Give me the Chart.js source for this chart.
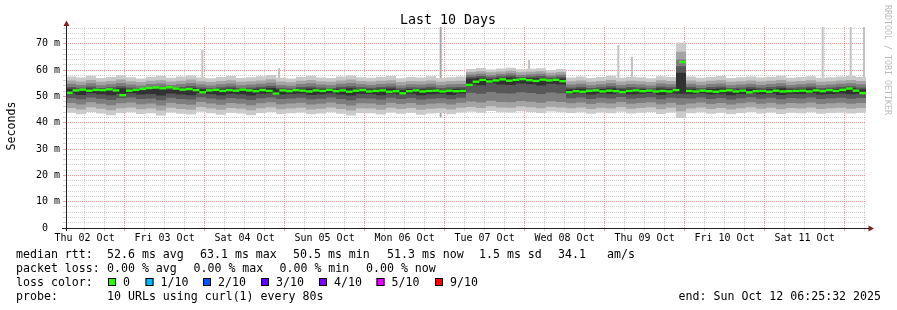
<!DOCTYPE html>
<html>
<head>
<meta charset="utf-8">
<script src="https://cdn.jsdelivr.net/npm/chart.js@4.4.1/dist/chart.umd.min.js"></script>
<style>
  html, body { margin: 0; padding: 0; background: #fff; }
  canvas { display: block; }
</style>
</head>
<body>
<canvas id="smoke" width="897" height="310"></canvas>
<script>
// x is hours since Thu 02 Oct 06:25:32, the graph covers 240 hours
var totalHours = 240;
var smokeStep = 3;   // smoke bins, hours
var medianStep = 2;  // median bins, hours

// smoke bands, outer (light) to inner (dark), values in ms
var b1Lo = [43.8,43.2,44.1,43.5,42.9,43.7,44.0,43.3,43.6,42.8,
  43.9,43.4,43.1,44.2,43.6,43.0,43.8,43.5,42.9,43.7,
  44.1,43.3,43.6,43.9,43.2,43.5,44.0,43.4,42.8,43.7,
  43.6,43.1,43.9,43.4,43.8,43.0,43.5,43.7,43.2,43.9,
  44.2,43.8,44.5,44.0,43.9,44.4,44.1,43.7,44.3,44.0,
  43.7,44.0,43.4,43.9,43.6,44.2,43.5,43.8,44.1,43.3,
  43.9,41.8,43.6,44.0,43.4,43.8,43.2,43.7,44.1,43.5,
  43.9,43.3,43.8,43.6,44.0,43.4,43.7,43.9,43.5,43.8];
var b1Hi = [57.6,57.2,57.9,57.0,57.4,58.1,57.3,56.8,57.5,57.9,
  57.1,57.6,58.0,57.2,56.9,57.4,57.8,57.0,57.3,57.7,
  58.2,57.1,56.8,57.5,57.9,57.2,57.0,57.6,58.0,57.3,
  57.1,57.5,57.8,56.9,57.4,57.2,57.7,57.0,57.3,57.6,
  60.4,60.8,60.2,60.6,60.9,60.3,60.5,60.7,60.1,60.4,
  57.2,57.6,57.0,57.4,57.9,57.1,57.5,57.3,56.9,57.7,
  57.4,70.5,57.6,57.1,57.5,57.8,57.0,57.3,57.6,57.2,
  57.5,57.9,57.1,57.4,57.7,57.0,57.3,57.6,57.8,57.4];
var b2Lo = [45.6,45.0,45.9,45.3,44.8,45.5,45.8,45.1,45.4,44.7,
  45.7,45.2,44.9,46.0,45.4,44.9,45.6,45.3,44.8,45.5,
  45.9,45.1,45.4,45.7,45.0,45.3,45.8,45.2,44.7,45.5,
  45.4,44.9,45.7,45.2,45.6,44.9,45.3,45.5,45.0,45.7,
  46.0,45.6,46.3,45.8,45.7,46.2,45.9,45.5,46.1,45.8,
  45.5,45.8,45.2,45.7,45.4,46.0,45.3,45.6,45.9,45.1,
  45.7,44.4,45.4,45.8,45.2,45.6,45.0,45.5,45.9,45.3,
  45.7,45.1,45.6,45.4,45.8,45.2,45.5,45.7,45.3,45.6];
var b2Hi = [56.1,55.7,56.3,55.6,55.9,56.4,55.8,55.5,56.0,56.2,
  55.7,56.0,56.4,55.8,55.5,55.9,56.2,55.6,55.8,56.1,
  56.5,55.7,55.4,56.0,56.3,55.8,55.6,56.1,56.4,55.9,
  55.7,56.0,56.2,55.5,55.9,55.8,56.1,55.6,55.9,56.0,
  59.3,59.6,59.2,59.5,59.8,59.2,59.4,59.6,59.0,59.3,
  55.8,56.1,55.6,55.9,56.3,55.7,56.0,55.8,55.5,56.2,
  55.9,67.0,56.1,55.6,56.0,56.2,55.6,55.8,56.1,55.7,
  56.0,56.3,55.7,55.9,56.2,55.6,55.8,56.1,56.3,55.9];
var b3Lo = [47.5,46.9,47.8,47.2,46.7,47.4,47.7,47.0,47.3,46.6,
  47.6,47.1,46.8,47.9,47.3,46.8,47.5,47.2,46.7,47.4,
  47.8,47.0,47.3,47.6,46.9,47.2,47.7,47.1,46.6,47.4,
  47.3,46.8,47.6,47.1,47.5,46.8,47.2,47.4,46.9,47.6,
  48.1,47.7,48.4,47.9,47.8,48.3,48.0,47.6,48.2,47.9,
  47.4,47.7,47.1,47.6,47.3,47.9,47.2,47.5,47.8,47.0,
  47.6,46.8,47.3,47.7,47.1,47.5,46.9,47.4,47.8,47.2,
  47.6,47.0,47.5,47.3,47.7,47.1,47.4,47.6,47.2,47.5];
var b3Hi = [54.8,54.4,55.0,54.3,54.6,55.1,54.5,54.2,54.7,54.9,
  54.4,54.7,55.1,54.5,54.2,54.6,54.9,54.3,54.5,54.8,
  55.2,54.4,54.1,54.7,55.0,54.5,54.3,54.8,55.1,54.6,
  54.4,54.7,54.9,54.2,54.6,54.5,54.8,54.3,54.6,54.7,
  58.3,58.6,58.1,58.5,58.8,58.2,58.4,58.6,58.0,58.3,
  54.5,54.8,54.3,54.6,55.0,54.4,54.7,54.5,54.2,54.9,
  54.6,64.0,54.8,54.3,54.7,54.9,54.3,54.5,54.8,54.4,
  54.7,55.0,54.4,54.6,54.9,54.3,54.5,54.8,55.0,54.6];
var b4Lo = [49.4,48.9,49.6,49.1,48.7,49.3,49.6,49.0,49.2,48.6,
  49.5,49.0,48.8,49.7,49.2,48.8,49.4,49.1,48.7,49.3,
  49.6,49.0,49.2,49.5,48.9,49.1,49.6,49.0,48.6,49.3,
  49.2,48.8,49.5,49.0,49.4,48.8,49.1,49.3,48.9,49.5,
  51.4,51.0,51.7,51.2,51.1,51.6,51.3,50.9,51.5,51.2,
  49.3,49.6,49.0,49.5,49.2,49.8,49.1,49.4,49.7,48.9,
  49.5,49.3,49.2,49.6,49.0,49.4,48.8,49.3,49.7,49.1,
  49.5,48.9,49.4,49.2,49.6,49.0,49.3,49.5,49.1,49.4];
var b4Hi = [53.6,53.3,53.8,53.2,53.5,53.9,53.4,53.1,53.6,53.7,
  53.3,53.6,54.0,53.4,53.1,53.5,53.8,53.2,53.4,53.7,
  54.0,53.3,53.0,53.6,53.8,53.4,53.2,53.7,53.9,53.5,
  53.3,53.6,53.8,53.1,53.5,53.4,53.7,53.2,53.5,53.6,
  57.5,57.8,57.3,57.7,58.0,57.4,57.6,57.8,57.2,57.5,
  53.4,53.7,53.2,53.5,53.9,53.3,53.6,53.4,53.1,53.8,
  53.5,61.5,53.7,53.2,53.6,53.8,53.2,53.4,53.7,53.3,
  53.6,53.9,53.3,53.5,53.8,53.2,53.4,53.7,53.9,53.4];
var b5Lo = [51.0,50.6,51.2,50.8,50.5,51.0,51.2,50.7,50.9,50.4,
  51.1,50.7,50.5,51.3,50.9,50.5,51.0,50.8,50.4,51.0,
  51.2,50.7,50.9,51.1,50.6,50.8,51.2,50.7,50.4,51.0,
  50.9,50.5,51.1,50.7,51.0,50.5,50.8,51.0,50.6,51.1,
  54.7,54.3,55.0,54.5,54.4,54.9,54.6,54.2,54.8,54.5,
  51.0,51.2,50.7,51.1,50.9,51.4,50.8,51.0,51.3,50.6,
  51.1,51.0,50.9,51.2,50.7,51.0,50.5,50.9,51.3,50.8,
  51.1,50.6,51.0,50.9,51.2,50.7,50.9,51.1,50.8,51.0];
var b5Hi = [52.9,52.6,53.0,52.5,52.8,53.1,52.7,52.4,52.8,52.9,
  52.6,52.9,53.2,52.7,52.4,52.8,53.0,52.5,52.7,52.9,
  53.2,52.6,52.3,52.9,53.0,52.7,52.5,52.9,53.1,52.8,
  52.6,52.9,53.0,52.4,52.8,52.7,52.9,52.5,52.8,52.9,
  56.8,57.1,56.6,57.0,57.2,56.7,56.9,57.0,56.5,56.8,
  52.7,52.9,52.5,52.8,53.1,52.6,52.9,52.7,52.4,53.0,
  52.8,59.0,52.9,52.5,52.8,53.0,52.5,52.7,52.9,52.6,
  52.8,53.1,52.6,52.8,53.0,52.5,52.7,52.9,53.1,52.7];

// median rtt, ms, 2 hour bins
var median = [51.4,52.3,52.6,52.2,52.5,52.4,52.7,52.3,50.5,52.2,
  52.5,52.9,53.2,53.4,53.1,53.5,53.0,52.6,52.8,52.4,
  51.6,52.3,52.5,52.1,52.4,52.2,52.6,52.3,52.0,52.4,
  52.1,51.1,52.3,52.0,52.4,52.2,51.9,52.3,52.1,52.5,
  52.0,52.3,51.8,52.2,52.4,51.9,52.1,52.3,51.8,52.0,
  51.2,52.0,52.3,51.9,52.1,52.2,51.9,52.2,52.0,52.1,
  54.4,55.6,56.3,55.7,56.1,56.5,56.0,56.3,56.6,56.2,
  55.9,56.4,56.1,56.3,55.8,51.6,52.0,51.8,52.1,52.3,
  51.9,52.2,52.0,51.7,52.1,52.3,52.0,52.2,51.9,52.1,
  51.9,52.4,63.1,52.1,51.9,52.2,52.0,51.8,52.1,52.3,
  51.9,52.2,51.6,52.0,52.1,51.8,52.2,51.9,52.0,52.1,
  52.2,51.9,52.3,52.0,52.4,52.1,52.5,53.0,52.2,51.3];

// single slow samples sticking out of the smoke
var spikeHours = [40.9, 63.9, 112.4, 138.9, 165.7, 169.8, 227.0, 235.4, 239.4];
var spikeTops = [67.7, 60.7, 76.4, 63.9, 69.6, 65.0, 76.4, 76.4, 76.4];
var spikeBottoms = [52, 52, 42, 52, 52, 52, 50, 50, 47];

var dayLabels = ['Thu 02 Oct', 'Fri 03 Oct', 'Sat 04 Oct', 'Sun 05 Oct', 'Mon 06 Oct',
  'Tue 07 Oct', 'Wed 08 Oct', 'Thu 09 Oct', 'Fri 10 Oct', 'Sat 11 Oct'];
var firstNoon = 5 + 34 / 60 + 28 / 3600;  // 12:00 on Thu 02 Oct
var yMax = 76.4;

var bandColors = ['#cacaca', '#a4a4a4', '#7e7e7e', '#585858', '#323232'];
var bands = [[b1Lo, b1Hi], [b2Lo, b2Hi], [b3Lo, b3Hi], [b4Lo, b4Hi], [b5Lo, b5Hi]];
var lossColors = ['#26ff00', '#00b8ff', '#0059ff', '#5e00ff', '#7e00ff', '#dd00ff', '#ff0000'];
var lossNames = ['0', '1/10', '2/10', '3/10', '4/10', '5/10', '9/10'];

var gridColor = 'rgba(143,143,143,0.38)';
var mgridColor = 'rgba(222,79,79,0.55)';

function stepPoints(vals) {
  var pts = vals.map(function (v, i) { return { x: i * smokeStep, y: v }; });
  pts.push({ x: totalHours, y: vals[vals.length - 1] });
  return pts;
}

var datasets = [];
datasets.push({
  type: 'bar',
  data: median.map(function (m, i) { return { x: i * medianStep + medianStep / 2, y: [m - 0.45, m + 0.45] }; }),
  backgroundColor: lossColors[0],
  barThickness: 800 / median.length,
  grouped: false,
  borderWidth: 0,
  inflateAmount: 0,
  order: 0
});
bands.forEach(function (b, j) {
  var idx = datasets.length;
  datasets.push({
    data: stepPoints(b[0]), stepped: 'before', fill: false,
    borderWidth: 0, borderColor: 'rgba(0,0,0,0)', pointRadius: 0, order: 10 - j
  });
  datasets.push({
    data: stepPoints(b[1]), stepped: 'before', fill: { target: idx },
    backgroundColor: bandColors[j],
    borderWidth: 0, borderColor: 'rgba(0,0,0,0)', pointRadius: 0, order: 10 - j
  });
});
datasets.push({
  type: 'bar',
  data: spikeHours.map(function (h, i) { return { x: h, y: [spikeBottoms[i], spikeTops[i]] }; }),
  backgroundColor: spikeHours.map(function (h) { return h > 110 && h < 115 ? '#a6a6a6' : '#c2c2c2'; }),
  barThickness: 2,
  grouped: false,
  borderWidth: 0,
  inflateAmount: 0,
  order: 20
});

var xTicks = [];
for (var k = 0; firstNoon + 6 * k < totalHours; k++) xTicks.push(firstNoon + 6 * k);
var yTicks = [];
for (var v = 0; v <= yMax; v += 2) yTicks.push(v);

var mono = 'DejaVu Sans Mono';

var decor = {
  id: 'decor',
  afterDraw: function (chart) {
    var c = chart.ctx;
    c.save();
    // axes
    c.strokeStyle = '#1f1f1f';
    c.lineWidth = 1;
    c.beginPath();
    c.moveTo(66.5, 231); c.lineTo(66.5, 24);
    c.moveTo(62, 228.5); c.lineTo(870, 228.5);
    c.stroke();
    // arrows
    c.fillStyle = '#801f1f';
    c.beginPath();
    c.moveTo(66.5, 20.5); c.lineTo(63.5, 26); c.lineTo(69.5, 26); c.closePath();
    c.fill();
    c.beginPath();
    c.moveTo(874, 228.5); c.lineTo(868.5, 225.5); c.lineTo(868.5, 231.5); c.closePath();
    c.fill();

    c.fillStyle = '#000';
    c.textBaseline = 'alphabetic';
    // title
    c.font = '13.3px "' + mono + '"';
    c.textAlign = 'center';
    c.fillText('Last 10 Days', 448, 24);
    // y title
    c.save();
    c.font = '11.6px "' + mono + '"';
    c.translate(15, 126);
    c.rotate(-Math.PI / 2);
    c.fillText('Seconds', 0, 0);
    c.restore();
    // watermark
    c.save();
    c.fillStyle = '#bbbbbb';
    c.font = '8.3px "' + mono + '"';
    c.textAlign = 'left';
    c.translate(885, 5);
    c.rotate(Math.PI / 2);
    c.fillText('RRDTOOL / TOBI OETIKER', 0, 0);
    c.restore();

    // legend
    c.font = '11.6px "' + mono + '"';
    c.textAlign = 'left';
    var rows = [
      ['median rtt:', 16, 258], ['52.6 ms avg', 107, 258], ['63.1 ms max', 200, 258],
      ['50.5 ms min', 293, 258], ['51.3 ms now', 387, 258], ['1.5 ms sd', 479, 258],
      ['34.1', 558, 258], ['am/s', 607, 258],
      ['packet loss:', 16, 272], ['0.00 % avg', 107, 272], ['0.00 % max', 193.5, 272],
      ['0.00 % min', 279.5, 272], ['0.00 % now', 366, 272],
      ['loss color:', 16, 286],
      ['probe:', 16, 300], ['10 URLs using curl(1) every 80s', 107, 300]
    ];
    rows.forEach(function (r) { c.fillText(r[0], r[1], r[2]); });
    var boxX = [108, 145.5, 203, 261, 319, 376.5, 435];
    lossNames.forEach(function (n, i) {
      c.fillStyle = lossColors[i];
      c.fillRect(boxX[i], 278, 8, 8);
      c.strokeStyle = '#000';
      c.strokeRect(boxX[i] + 0.5, 278.5, 7, 7);
      c.fillStyle = '#000';
      c.fillText(n, boxX[i] + 15, 286);
    });
    c.textAlign = 'right';
    c.fillText('end: Sun Oct 12 06:25:32 2025', 881, 300);
    c.restore();
  }
};

new Chart(document.getElementById('smoke'), {
  type: 'line',
  data: { datasets: datasets },
  plugins: [decor],
  options: {
    responsive: false,
    animation: false,
    devicePixelRatio: 1,
    events: [],
    layout: { padding: { left: 0, right: 31, top: 27, bottom: 60 } },
    plugins: {
      legend: { display: false },
      tooltip: { enabled: false },
      filler: { drawTime: 'beforeDatasetDraw' }
    },
    scales: {
      x: {
        type: 'linear', min: 0, max: totalHours, offset: false, z: 1,
        afterBuildTicks: function (s) { s.ticks = xTicks.map(function (t) { return { value: t }; }); },
        afterFit: function (s) { s.height = 22; },
        ticks: {
          autoSkip: false, maxRotation: 0, minRotation: 0, padding: 1, color: '#000',
          font: { family: mono, size: 10 },
          callback: function (val, i) { return i % 4 === 0 ? dayLabels[i / 4] : ''; }
        },
        grid: {
          offset: false, tickLength: 3,
          color: function (ctx) { return ctx.index % 4 === 2 ? mgridColor : gridColor; }
        },
        border: { display: false, dash: [1, 1] }
      },
      y: {
        type: 'linear', min: 0, max: yMax, z: 1,
        afterBuildTicks: function (s) { s.ticks = yTicks.map(function (t) { return { value: t }; }); },
        afterFit: function (s) { s.width = 66; },
        ticks: {
          autoSkip: false, padding: 3, color: '#000',
          font: { family: mono, size: 10 },
          callback: function (val) { return val % 10 === 0 ? (val === 0 ? '0  ' : val + ' m') : ''; }
        },
        grid: {
          tickLength: 3,
          color: function (ctx) { return ctx.tick && ctx.tick.value % 10 === 0 ? mgridColor : gridColor; }
        },
        border: { display: false, dash: [1, 1] }
      }
    }
  }
});
</script>
</body>
</html>
